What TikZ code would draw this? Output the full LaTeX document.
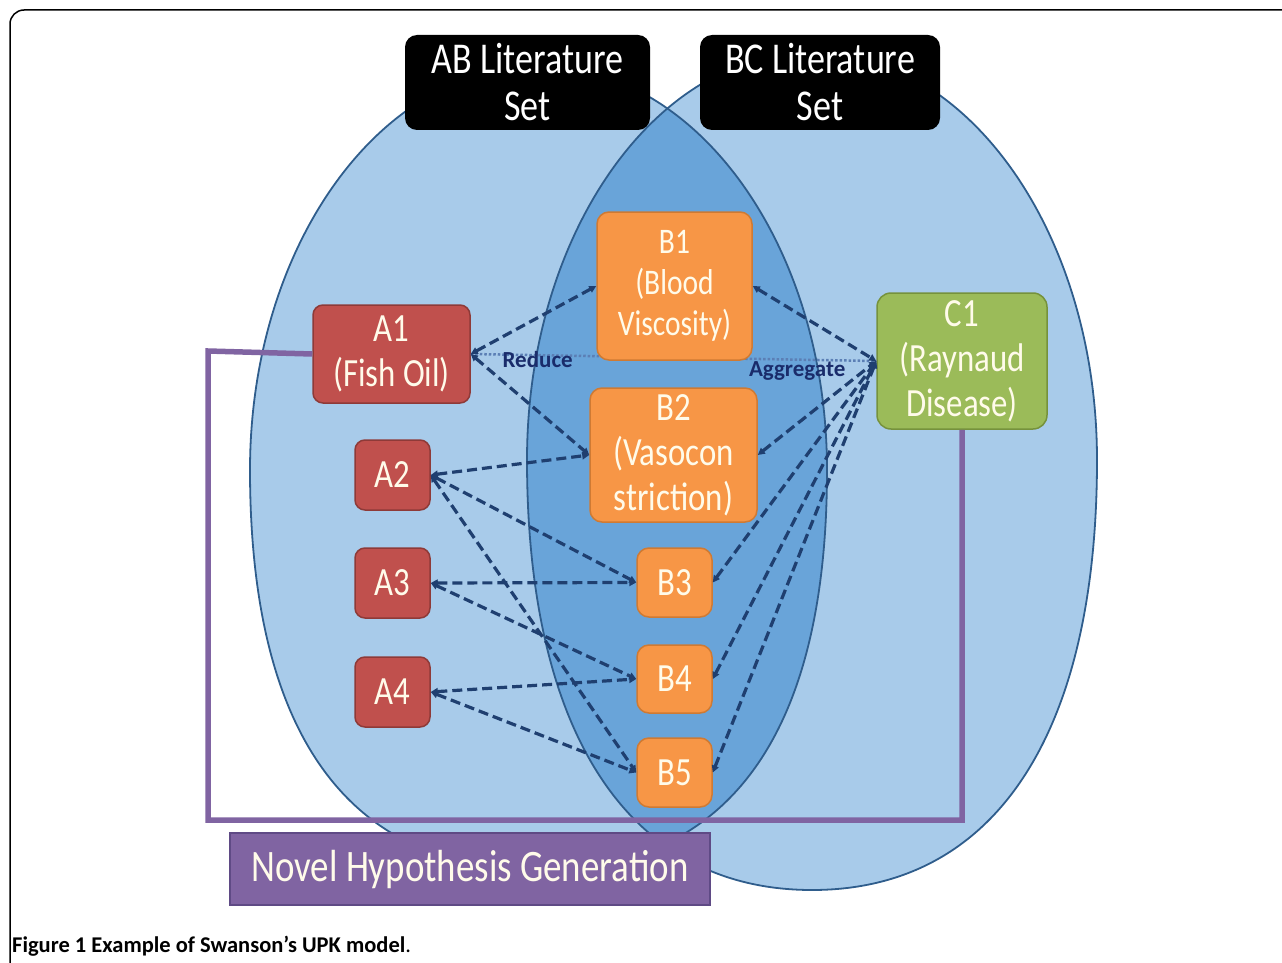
\documentclass[tikz,border=0pt]{standalone}
\usepackage{fontspec}
\setmainfont{Carlito}
\newfontfamily\cf{Carlito}[FakeStretch=0.82]
\usetikzlibrary{arrows.meta}
\definecolor{lb}{HTML}{A8CBEA}
\definecolor{lens}{HTML}{69A4D9}
\definecolor{outl}{HTML}{2F5D8C}
\definecolor{redF}{HTML}{C0504D}
\definecolor{redB}{HTML}{8E3A38}
\definecolor{orF}{HTML}{F79646}
\definecolor{orB}{HTML}{CF7A33}
\definecolor{grF}{HTML}{9BBB59}
\definecolor{grB}{HTML}{76923C}
\definecolor{puF}{HTML}{8064A2}
\definecolor{puB}{HTML}{5F4A85}
\definecolor{navy}{HTML}{1F3F70}
\definecolor{lblnavy}{HTML}{1A2C6B}
\definecolor{dotc}{HTML}{5B7FB5}
\definecolor{cream}{HTML}{FFFBEA}
\tikzset{
  boxtext/.style={text=cream, align=center, inner sep=0pt,
    font=\cf\fontsize{40}{45}\selectfont},
  abox/.style={boxtext, draw=redB, fill=redF, line width=1.5pt, rounded corners=10pt},
  bbox/.style={boxtext, draw=orB, fill=orF, line width=1.5pt, rounded corners=12pt},
  cbox/.style={boxtext, draw=grB, fill=grF, line width=1.5pt, rounded corners=14pt},
  setbox/.style={fill=black, text=white, align=center, rounded corners=12pt, inner sep=0pt,
    font=\cf\fontsize{44}{47}\selectfont},
  dl/.style={draw=navy, line width=3.2pt, dash pattern=on 10pt off 5pt,
    arrows={Triangle[length=7pt,width=7pt]-Triangle[length=7pt,width=7pt]}},
  pline/.style={draw=puF, line width=5.5pt},
  setline/.style={draw=outl, line width=1.8pt},
  lbl/.style={text=lblnavy, font=\fontsize{23}{25}\selectfont\bfseries, inner sep=0pt}
}
\begin{document}
\begin{tikzpicture}[x=1pt,y=-1pt]
\useasboundingbox (0,0) rectangle (1282,963);
\begin{scope}
\clip (0,0) rectangle (1282,963);
% frame
\draw[black, line width=1.5pt, rounded corners=14pt] (10,1000) -- (10,10) -- (1300,10);
% sets
\def\Lset{(250,470) .. controls (250,247) and (379.2,66) .. (538.5,66)
  .. controls (697.8,66) and (827,247) .. (827,470)
  .. controls (827,734) and (728.9,870) .. (538.5,870)
  .. controls (348.1,870) and (250,734) .. cycle}
\def\Rset{(527,460) .. controls (527,235) and (654.7,52) .. (812,52)
  .. controls (969.3,52) and (1097,235) .. (1097,460)
  .. controls (1097,735) and (994.4,890) .. (812,890)
  .. controls (629.6,890) and (527,735) .. cycle}
\fill[lb] \Lset;
\fill[lb] \Rset;
\begin{scope}
\clip \Lset;
\fill[lens] \Rset;
\end{scope}
\draw[setline] \Lset;
\draw[setline] \Rset;
\end{scope}

% set labels
\node[setbox, minimum width=245pt, minimum height=95pt] (AB) at (527.5,82.5) {AB Literature\\Set};
\node[setbox, minimum width=240pt, minimum height=95pt] (BC) at (820,82.5) {BC Literature\\Set};

% nodes
\node[abox, minimum width=157pt, minimum height=98pt] (A1) at (391.5,354) {A1\\(Fish Oil)};
\node[abox, minimum width=75pt, minimum height=70pt] (A2) at (392.5,475) {A2};
\node[abox, minimum width=75pt, minimum height=70pt] (A3) at (392.5,583) {A3};
\node[abox, minimum width=75pt, minimum height=70pt] (A4) at (392.5,692) {A4};
\node[cbox, minimum width=170pt, minimum height=136pt] (C1) at (962,361) {C1\\(Raynaud\\Disease)};

% purple connector
\coordinate (p1) at (208,351);
\coordinate (p2) at (208,820);
\coordinate (p3) at (962,820);
\draw[pline] (A1.west) -- (p1) -- (p2) -- (p3) -- (C1.south);

% dotted line A1 - C1 with labels
\draw[dotc, line width=2.5pt, dotted] (A1.east) -- (C1.west)
  node[lbl, pos=0.165, yshift=-4pt] {Reduce}
  node[lbl, pos=0.805, yshift=-11pt] {Aggregate};

% B nodes
\node[bbox, minimum width=155pt, minimum height=148pt, font=\cf\fontsize{36}{41}\selectfont] (B1) at (674.5,286) {B1\\(Blood\\Viscosity)};
\node[bbox, minimum width=167pt, minimum height=134pt] (B2) at (673.5,455) {B2\\(Vasocon\\striction)};
\node[bbox, minimum width=75pt, minimum height=69pt] (B3) at (674.5,582.5) {B3};
\node[bbox, minimum width=75pt, minimum height=68pt] (B4) at (674.5,679) {B4};
\node[bbox, minimum width=75pt, minimum height=69pt] (B5) at (674.5,772.5) {B5};

% dashed links
\draw[dl] (A1.east) -- (B1.west);
\draw[dl] (A1.east) -- (B2.west);
\draw[dl] (A2.east) -- (B2.west);
\draw[dl] (A2.east) -- (B3.west);
\draw[dl] (A2.east) -- (B5.west);
\draw[dl] (A3.east) -- (B3.west);
\draw[dl] (A3.east) -- (B4.west);
\draw[dl] (A4.east) -- (B4.west);
\draw[dl] (A4.east) -- (B5.west);
\draw[dl] (B1.east) -- (C1.west);
\draw[dl] (B2.east) -- (C1.west);
\draw[dl] (B3.east) -- (C1.west);
\draw[dl] (B4.east) -- (C1.west);
\draw[dl] (B5.east) -- (C1.west);

% novel hypothesis box
\node[fill=puF, draw=puB, line width=2pt, minimum width=480pt, minimum height=72pt, inner sep=0pt,
  text=cream, font=\cf\fontsize{45}{50}\selectfont] (NH) at (470,869) {Novel Hypothesis Generation};

% caption
\node[anchor=base west, inner sep=0pt, font=\fontsize{22.5}{26}\selectfont] (cap) at (12,952)
  {\bfseries Figure 1 Example of Swanson’s UPK model\mdseries.};
\end{tikzpicture}
\end{document}
